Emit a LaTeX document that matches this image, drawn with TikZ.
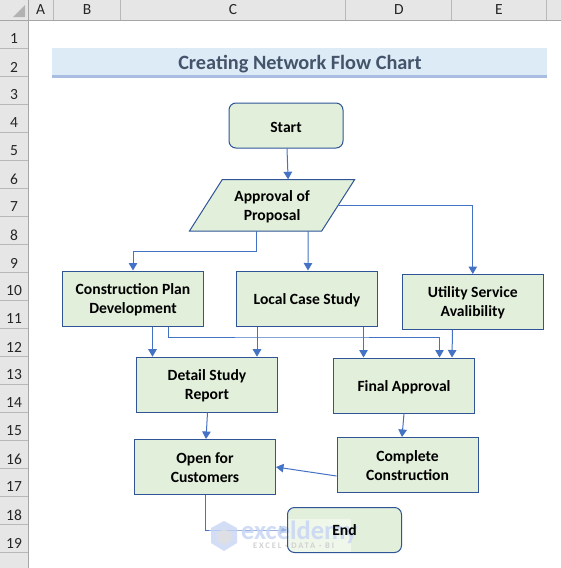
\documentclass[tikz,border=0pt]{standalone}
\usepackage{fontspec}
\setmainfont{Carlito}
\usetikzlibrary{arrows.meta}
\definecolor{hdr}{HTML}{E6E6E6}
\definecolor{hdrline}{HTML}{A6A6A6}
\definecolor{band}{HTML}{DDEBF7}
\definecolor{bandline}{HTML}{A9BCE2}
\definecolor{ttl}{HTML}{44546A}
\definecolor{boxfill}{HTML}{E2EFDA}
\definecolor{boxline}{HTML}{2F5597}
\definecolor{conn}{HTML}{4472C4}
\definecolor{wm}{HTML}{C5D4F3}
\pgfdeclarelayer{top}
\pgfsetlayers{main,top}
\tikzset{
  x=1pt,y=-1pt,
  lbl/.style={inner sep=0pt,text=black!85,font=\fontsize{15.5}{18}\selectfont},
  sepline/.style={draw=hdrline,line width=1pt},
  boxbase/.style={draw=boxline,fill=boxfill,line width=1pt,inner sep=0pt,align=center,
     minimum width=141pt,minimum height=55pt,font=\fontsize{15.6}{19}\selectfont\bfseries,text=black},
  procbox/.style={boxbase},
  termbox/.style={boxbase,rounded corners=7pt,minimum width=114pt,minimum height=45pt},
  flow/.style={draw=conn,line width=1pt,-{Triangle[width=8.5pt,length=7.5pt,fill=conn]}},
}
\begin{document}
\begin{tikzpicture}
\useasboundingbox (0,0) rectangle (561,568);
\fill[white] (0,0) rectangle (561,568);
% sheet headers
\fill[hdr] (0,0) rectangle (561,20);
\fill[hdr] (0,0) rectangle (28,568);
\fill[black!30] (25,5) -- (25,17) -- (13,17) -- cycle;
\draw[sepline] (0,20.5) -- (561,20.5);
\draw[sepline] (28.5,0) -- (28.5,568);
\foreach \cx in {53,120.5,345.5,451.5,546.5} \draw[sepline,draw=hdrline!80] (\cx,0) -- (\cx,20);
\foreach \cy in {48,76,...,552} \draw[sepline,draw=hdrline!80] (0,\cy) -- (28,\cy);
\foreach \letter/\cx in {A/40.5,B/87,C/233,D/399,E/499}
  \node[lbl] (col\letter) at (\cx,10) {\letter};
\foreach \n in {1,...,19}
  \node[lbl] (row\n) at (14,11+\n*28) {\n};
% title band
\fill[band] (52,48) rectangle (547,75);
\fill[bandline] (52,75) rectangle (547,78);
\node[inner sep=0pt,text=ttl,font=\fontsize{20.3}{24}\selectfont\bfseries] (title) at (300,64.5) {Creating Network Flow Chart};
% parallelogram
\filldraw[draw=boxline,fill=boxfill,line width=1pt,line join=miter]
  (222.3,179.5) -- (354.7,179.5) -- (321.7,231) -- (189.5,231) -- cycle;
% nodes
\node[termbox] (start) at (286,125.5) {\rule{0pt}{14pt}Start};
\node[inner sep=0pt,align=center,minimum width=165.2pt,minimum height=51.5pt,
      font=\fontsize{15.6}{19}\selectfont\bfseries] (approval) at (272.1,205.25) {\rule{0pt}{14pt}Approval of\\Proposal};
\node[procbox] (plan) at (133,298.5) {\rule{0pt}{13pt}Construction Plan\\Development};
\node[procbox] (local) at (307,298.5) {\rule{0pt}{14pt}Local Case Study};
\node[procbox] (utility) at (472.8,302) {\rule{0pt}{13pt}Utility Service\\Avalibility};
\node[procbox] (detail) at (207,384.7) {\rule{0pt}{13pt}Detail Study\\Report};
\node[procbox] (final) at (404,385.5) {\rule{0pt}{14pt}Final Approval};
\node[procbox] (open) at (205,467) {\rule{0pt}{13pt}Open for\\Customers};
\node[procbox] (complete) at (407.5,465) {\rule{0pt}{13pt}Complete\\Construction};
\fill[boxfill,rounded corners=7pt] (287.5,507.5) rectangle (401.5,552.5);
\begin{pgfonlayer}{top}
\node[termbox,fill=none] (end) at (344.5,530) {End};
\end{pgfonlayer}
% connectors
\draw[flow] ([xshift=1pt]start.south) -- ([xshift=16pt]approval.north);
\draw[flow] ([xshift=-16pt]approval.south) |- (133,251) -- (plan.north);
\draw[flow] ([xshift=36pt]approval.south) -- ([xshift=1pt]local.north);
\draw[flow] ([xshift=-16.7pt]approval.east) -| (utility.north);
\draw[flow] ([xshift=19.5pt]plan.south) -- ([xshift=-54.5pt]detail.north);
\draw[flow] ([xshift=35pt]plan.south) |- (300,337) -| ([xshift=35.5pt]final.north);
\draw[flow] ([xshift=-50pt]local.south) -- ([xshift=50pt]detail.north);
\draw[flow] ([xshift=56.5pt]local.south) -- ([xshift=-40.5pt]final.north);
\draw[flow] ([xshift=-20.3pt]utility.south) -- ([xshift=48pt]final.north);
\draw[flow] ([xshift=.5pt]detail.south) -- ([xshift=1pt]open.north);
\draw[flow] (final.south) -- ([xshift=-5.5pt]complete.north);
\draw[flow] ([yshift=-11pt]complete.west) -- (open.east);
\draw[flow] (open.south) |- (end.west);
% watermark
\fill[white,opacity=.45] (209,519) rectangle (351,553);
\fill[wm,opacity=.75] (224,521) -- (237,528) -- (237,543) -- (224,551) -- (211,543) -- (211,528) -- cycle;
\fill[black!12,opacity=.8] (224,529) -- (231,533) -- (231,541) -- (224,545) -- (217,541) -- (217,533) -- cycle;
\node[inner sep=0pt,text=wm,opacity=.8,font=\fontsize{26.5}{30}\selectfont\bfseries,anchor=west] (wmtext) at (241,532) {exceldemy};
\node[inner sep=0pt,text=black!18,font=\fontsize{8.5}{10}\selectfont\bfseries\addfontfeatures{LetterSpace=22},anchor=west] (wmsub) at (253,546) {EXCEL · DATA · BI};
\end{tikzpicture}
\end{document}
